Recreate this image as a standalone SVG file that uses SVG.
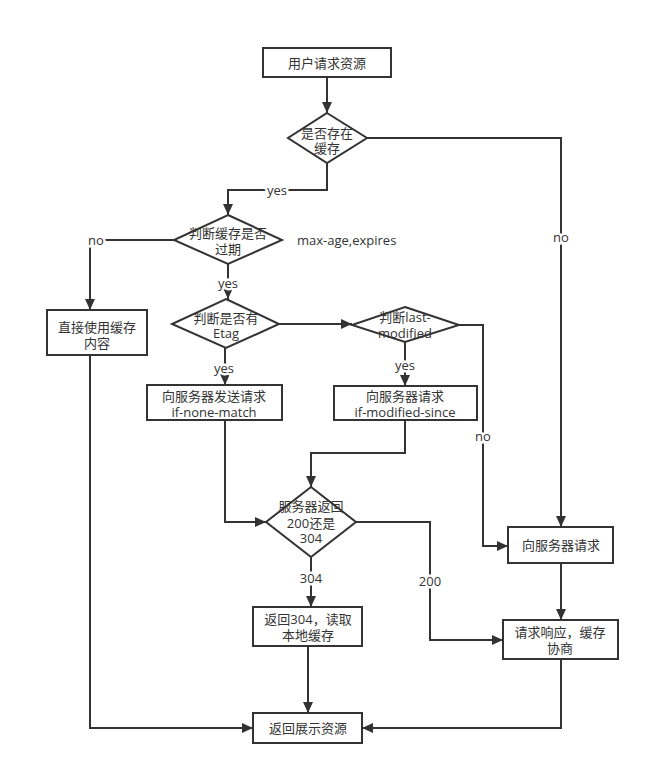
<svg xmlns="http://www.w3.org/2000/svg" width="650" height="775" viewBox="0 0 650 775">
<style>
.shape{fill:#fff;stroke:#333;stroke-width:2}
.conn{fill:none;stroke:#333;stroke-width:2}
text{font-family:"Open Sans","Noto Sans CJK SC",sans-serif;font-size:13px;fill:#333;text-anchor:middle;dominant-baseline:central}
.lbl{stroke:#fff;stroke-width:5;paint-order:stroke}
</style>
<defs>
<marker id="arr" markerWidth="11" markerHeight="10" refX="11" refY="5" orient="auto" markerUnits="userSpaceOnUse">
<path d="M0,0 L11,5 L0,10 Z" fill="#333"/>
</marker>
</defs>
<rect width="650" height="775" fill="#fff"/>
<g id="connectors">
<path class="conn" d="M327,77 V113" marker-end="url(#arr)"/>
<path class="conn" d="M367,138 H561 V527" marker-end="url(#arr)"/>
<path class="conn" d="M327,163 V190 H228 V215" marker-end="url(#arr)"/>
<path class="conn" d="M174,240 H90 V310" marker-end="url(#arr)"/>
<path class="conn" d="M228,264 V299" marker-end="url(#arr)"/>
<path class="conn" d="M279,324 H352" marker-end="url(#arr)"/>
<path class="conn" d="M459,325 H483 V546 H508" marker-end="url(#arr)"/>
<path class="conn" d="M405,342 V386" marker-end="url(#arr)"/>
<path class="conn" d="M225,348 V385" marker-end="url(#arr)"/>
<path class="conn" d="M225,420 V522 H266" marker-end="url(#arr)"/>
<path class="conn" d="M405,420 V453 H311 V487" marker-end="url(#arr)"/>
<path class="conn" d="M356,522 H430 V640 H503" marker-end="url(#arr)"/>
<path class="conn" d="M311,557 V607" marker-end="url(#arr)"/>
<path class="conn" d="M561,563 V620" marker-end="url(#arr)"/>
<path class="conn" d="M561,659 V728 H362" marker-end="url(#arr)"/>
<path class="conn" d="M308,646 V713" marker-end="url(#arr)"/>
<path class="conn" d="M90,355 V728 H253" marker-end="url(#arr)"/>
<text class="lbl" x="561" y="237">no</text>
<text class="lbl" x="277" y="190">yes</text>
<text class="lbl" x="96" y="240">no</text>
<text class="lbl" x="228" y="283">yes</text>
<text class="lbl" x="483" y="436">no</text>
<text class="lbl" x="405" y="365">yes</text>
<text class="lbl" x="224" y="368">yes</text>
<text class="lbl" x="430" y="581">200</text>
<text class="lbl" x="311" y="578">304</text>
</g>
<g id="start">
<rect class="shape" x="263" y="48" width="128" height="29"/>
<text x="327" y="63">用户请求资源</text>
</g>
<g id="hasCache">
<polygon class="shape" points="327,113 367,138 327,163 288,138"/>
<text x="327" y="133">是否存在</text>
<text x="327" y="148">缓存</text>
</g>
<g id="expired">
<polygon class="shape" points="228,215 282,240 228,264 174,240"/>
<text x="228" y="233">判断缓存是否</text>
<text x="228" y="249">过期</text>
</g>
<g id="note">
<text x="297" y="240" style="text-anchor:start">max-age,expires</text>
</g>
<g id="useCache">
<rect class="shape" x="47" y="310" width="100" height="45"/>
<text x="97" y="327">直接使用缓存</text>
<text x="97" y="343">内容</text>
</g>
<g id="hasEtag">
<polygon class="shape" points="226,299 279,324 226,348 172,324"/>
<text x="226" y="318">判断是否有</text>
<text x="226" y="333">Etag</text>
</g>
<g id="lastModified">
<polygon class="shape" points="405,307 459,325 405,342 352,325"/>
<text x="405" y="317">判断last-</text>
<text x="405" y="333">modified</text>
</g>
<g id="ifNoneMatch">
<rect class="shape" x="147" y="385" width="135" height="35"/>
<text x="214" y="396">向服务器发送请求</text>
<text x="214" y="412">if-none-match</text>
</g>
<g id="ifModifiedSince">
<rect class="shape" x="334" y="386" width="143" height="34"/>
<text x="405" y="396">向服务器请求</text>
<text x="405" y="412">if-modified-since</text>
</g>
<g id="serverReturn">
<polygon class="shape" points="311,487 356,522 311,557 266,522"/>
<text x="311" y="506">服务器返回</text>
<text x="311" y="523">200还是</text>
<text x="311" y="538">304</text>
</g>
<g id="requestServer">
<rect class="shape" x="508" y="527" width="105" height="36"/>
<text x="561" y="545">向服务器请求</text>
</g>
<g id="return304">
<rect class="shape" x="253" y="607" width="109" height="39"/>
<text x="308" y="619">返回304，读取</text>
<text x="308" y="635">本地缓存</text>
</g>
<g id="negotiate">
<rect class="shape" x="503" y="620" width="115" height="39"/>
<text x="560" y="632">请求响应，缓存</text>
<text x="560" y="648">协商</text>
</g>
<g id="show">
<rect class="shape" x="253" y="713" width="109" height="30"/>
<text x="308" y="728">返回展示资源</text>
</g>
</svg>
